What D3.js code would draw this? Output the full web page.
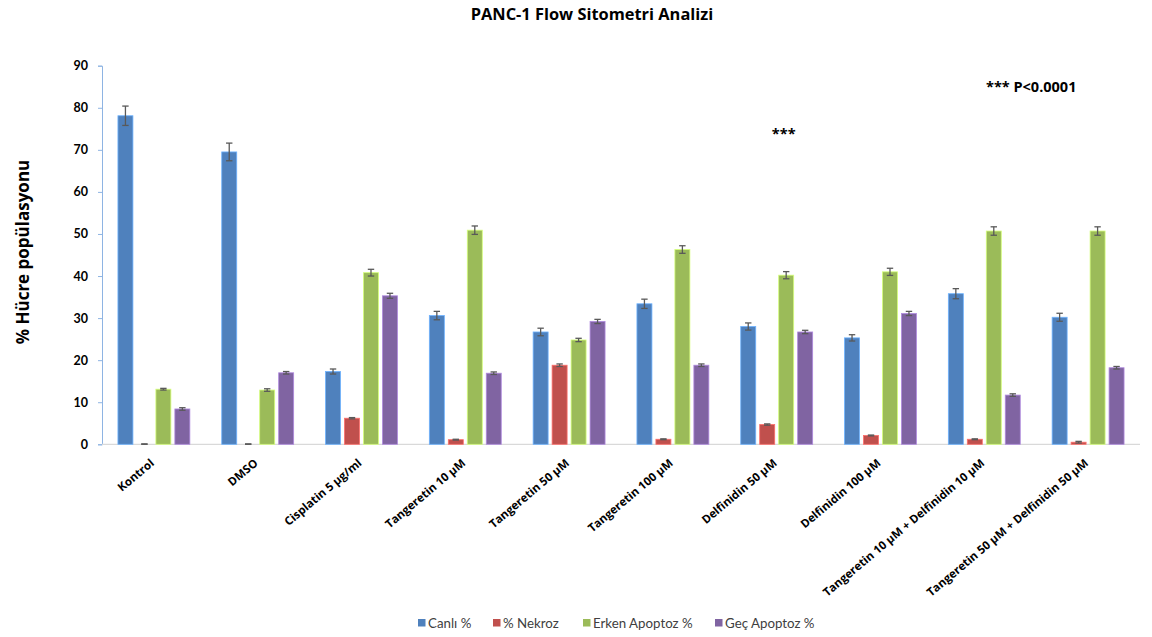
<!DOCTYPE html>
<html>
<head>
<meta charset="utf-8">
<script src="https://cdn.jsdelivr.net/npm/d3@7"></script>
<style>
  html, body { margin: 0; padding: 0; background: #fff; }
  svg { display: block; font-family: "Open Sans", Lato, sans-serif; }
</style>
</head>
<body>
<svg id="chart" width="1152" height="637"></svg>
<script>
// Treatment groups
const categories = [
  "Kontrol", "DMSO", "Cisplatin 5 µg/ml", "Tangeretin 10 µM", "Tangeretin 50 µM",
  "Tangeretin 100 µM", "Delfinidin 50 µM", "Delfinidin 100 µM",
  "Tangeretin 10 µM + Delfinidin 10 µM", "Tangeretin 50 µM + Delfinidin 50 µM"
];
const seriesNames = ["Canlı %", "% Nekroz", "Erken Apoptoz %", "Geç Apoptoz %"];
const seriesColors = ["#4F81BD", "#C0504D", "#9BBB59", "#8064A2"];

// Mean values per series
const canli  = [78.1, 69.5, 17.3, 30.6, 26.7, 33.4, 28.0, 25.3, 35.8, 30.2];
const nekroz = [0.0, 0.0, 6.2, 1.1, 18.8, 1.2, 4.7, 2.1, 1.2, 0.5];
const erken  = [13.1, 12.9, 40.8, 50.9, 24.8, 46.3, 40.2, 41.0, 50.7, 50.7];
const gec    = [8.4, 17.0, 35.3, 16.9, 29.2, 18.8, 26.7, 31.1, 11.7, 18.2];

// Error (± half-range) per series
const canliErr  = [2.3, 2.1, 0.6, 1.0, 0.9, 1.1, 0.85, 0.75, 1.2, 0.95];
const nekrozErr = [0.1, 0.1, 0.15, 0.1, 0.3, 0.1, 0.15, 0.1, 0.1, 0.2];
const erkenErr  = [0.2, 0.3, 0.8, 1.0, 0.4, 0.9, 0.85, 0.85, 1.0, 1.0];
const gecErr    = [0.3, 0.3, 0.6, 0.3, 0.5, 0.3, 0.4, 0.5, 0.3, 0.3];

const yTicks = [0, 10, 20, 30, 40, 50, 60, 70, 80, 90];

const values = [canli, nekroz, erken, gec];
const errors = [canliErr, nekrozErr, erkenErr, gecErr];

const svg = d3.select("#chart");
const plotLeft = 102, plotRight = 1140, plotTop = 65.7, plotBottom = 444.3;

const x0 = d3.scaleBand().domain(categories).range([plotLeft, plotRight]).padding(0);
const x1 = d3.scaleBand().domain(seriesNames).range([0, x0.bandwidth()])
  .paddingInner(0.21).paddingOuter(0.84);
const y = d3.scaleLinear().domain([0, 90]).range([plotBottom, plotTop]);

// Title
svg.append("text")
  .attr("x", 592).attr("y", 19.5)
  .attr("text-anchor", "middle")
  .attr("font-size", 16.4).attr("font-weight", "bold").attr("fill", "#000")
  .text("PANC-1 Flow Sitometri Analizi");

// Y axis title
svg.append("text")
  .attr("transform", "translate(29,252) rotate(-90)")
  .attr("text-anchor", "middle")
  .attr("font-size", 17).attr("font-weight", "bold").attr("fill", "#000")
  .text("% Hücre popülasyonu");

// Y axis
const yAxis = svg.append("g")
  .attr("transform", `translate(${plotLeft},0)`)
  .call(d3.axisLeft(y).tickValues(yTicks).tickSize(4).tickPadding(10));
yAxis.select(".domain").attr("stroke", "#8EB4E3").attr("stroke-width", 1);
yAxis.selectAll(".tick line").attr("stroke", "#8EB4E3");
yAxis.selectAll(".tick text")
  .attr("font-size", 12.5).attr("font-weight", "bold").attr("fill", "#000")
  .attr("font-family", "Lato, sans-serif");

// X axis baseline
svg.append("line")
  .attr("x1", plotLeft).attr("x2", plotRight)
  .attr("y1", y(0)).attr("y2", y(0))
  .attr("stroke", "#D9D9D9").attr("stroke-width", 1.2);

// Bars
const groups = svg.append("g").selectAll("g")
  .data(categories)
  .join("g")
  .attr("transform", d => `translate(${x0(d)},0)`);

seriesNames.forEach((s, si) => {
  groups.append("rect")
    .attr("x", x1(s))
    .attr("width", x1.bandwidth())
    .attr("y", (d, i) => y(values[si][i]))
    .attr("height", (d, i) => y(0) - y(values[si][i]))
    .attr("fill", seriesColors[si])
    .attr("stroke", d3.color(seriesColors[si]).brighter(0.9))
    .attr("stroke-width", 0.8);
});

// Error bars
const cap = 3.2;
seriesNames.forEach((s, si) => {
  const eg = groups.append("g")
    .attr("stroke", "#595959").attr("stroke-width", 1.3).attr("fill", "none");
  const cx = x1(s) + x1.bandwidth() / 2;
  eg.append("line")
    .attr("x1", cx).attr("x2", cx)
    .attr("y1", (d, i) => y(values[si][i] + errors[si][i]))
    .attr("y2", (d, i) => y(Math.max(0, values[si][i] - errors[si][i])));
  eg.append("line")
    .attr("x1", cx - cap).attr("x2", cx + cap)
    .attr("y1", (d, i) => y(values[si][i] + errors[si][i]))
    .attr("y2", (d, i) => y(values[si][i] + errors[si][i]));
  eg.append("line")
    .attr("x1", cx - cap).attr("x2", cx + cap)
    .attr("y1", (d, i) => y(Math.max(0, values[si][i] - errors[si][i])))
    .attr("y2", (d, i) => y(Math.max(0, values[si][i] - errors[si][i])));
});

// Category labels, rotated
svg.append("g").selectAll("text")
  .data(categories)
  .join("text")
  .attr("transform", d => `translate(${x0(d) + x0.bandwidth() / 2 + 1},${y(0) + 20}) rotate(-40)`)
  .attr("text-anchor", "end")
  .attr("font-size", 11.5).attr("font-weight", "bold").attr("fill", "#000")
  .text(d => d);

// Significance markers
svg.append("text")
  .attr("x", x0("Delfinidin 50 µM") + x0.bandwidth() / 2 + 7)
  .attr("y", y(72.6))
  .attr("text-anchor", "middle")
  .attr("font-size", 14.5).attr("font-weight", "bold").attr("fill", "#000")
  .text("***");

svg.append("text")
  .attr("x", 986).attr("y", 92)
  .attr("font-size", 14.5).attr("font-weight", "bold").attr("fill", "#000")
  .text("*** P<0.0001");

// Legend
const legendX = [418, 493, 583, 715];
const legend = svg.append("g").selectAll("g")
  .data(seriesNames)
  .join("g")
  .attr("transform", (d, i) => `translate(${legendX[i]},619)`);
legend.append("rect")
  .attr("width", 7.5).attr("height", 7.5)
  .attr("fill", (d, i) => seriesColors[i]);
legend.append("text")
  .attr("x", 10).attr("y", 8.5)
  .attr("font-size", 13.3).attr("fill", "#404040")
  .attr("font-family", "Lato, sans-serif")
  .text(d => d);
</script>
</body>
</html>
